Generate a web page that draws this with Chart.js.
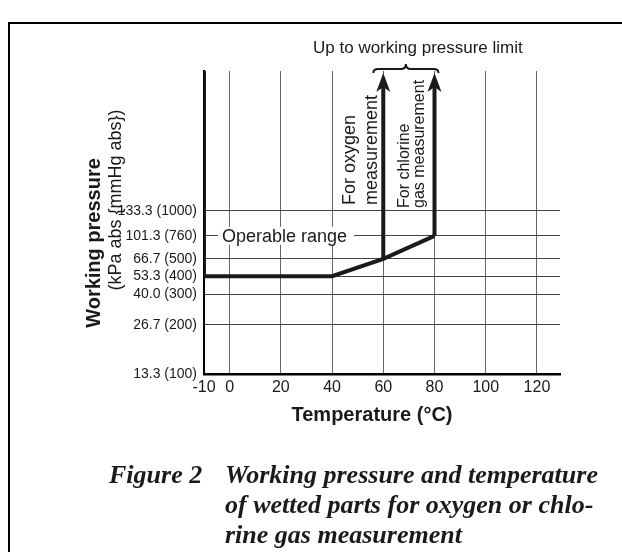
<!DOCTYPE html>
<html>
<head>
<meta charset="utf-8">
<script src="https://cdn.jsdelivr.net/npm/chart.js@4.4.1/dist/chart.umd.min.js"></script>
<style>
  html, body { margin: 0; padding: 0; background: #fff; }
  #wrap { width: 622px; height: 552px; }
</style>
</head>
<body>
<div id="wrap"><canvas id="chart" width="622" height="552"></canvas></div>
<script>
// temperature axis (°C)
const xTicks = [-10, 0, 20, 40, 60, 80, 100, 120];
const xMin = -10;
const xMax = 129;

// pressure axis: kPa abs {mmHg abs}
const kpaTicks = [13.3, 26.7, 40.0, 53.3, 66.7, 101.3, 133.3];
const mmHgTicks = [100, 200, 300, 400, 500, 760, 1000];
const pressureLimit = 200; // top edge = "working pressure limit", not labelled

// the pressure axis in the figure is not to scale: where each value sits (0 bottom, 1 top)
const kpaKnots = [13.3, 26.7, 40.0, 53.3, 66.7, 101.3, 133.3, pressureLimit];
const knotPos = [0, 0.162, 0.263, 0.323, 0.380, 0.456, 0.538, 1];

// boundary of the operable range
const boundaryTemp = [-10, -10, 40, 60, 80];
const boundaryKpa = [pressureLimit, 53.3, 53.3, 66.7, 101.3];
// arrows up to the working pressure limit
const oxygenTemp = [60, 60];
const oxygenKpa = [66.7, pressureLimit];
const chlorineTemp = [80, 80];
const chlorineKpa = [101.3, pressureLimit];

const captionNo = 'Figure 2';
const captionLines = ['Working pressure and temperature', 'of wetted parts for oxygen or chlo-', 'rine gas measurement'];

const ink = '#1a1a1a';

function hasFont(name) {
  const c = document.createElement('canvas').getContext('2d');
  c.font = '40px monospace';
  const a = c.measureText('133.3 (1000)').width;
  c.font = '40px "' + name + '", monospace';
  const b = c.measureText('133.3 (1000)').width;
  return a !== b;
}
const yTickFont = hasFont('Liberation Sans Narrow')
  ? { family: '"Liberation Sans Narrow", "Liberation Sans", Arial, sans-serif', size: 17 }
  : { family: '"Liberation Sans", Arial, sans-serif', size: 14 };

function kpaToPos(v) {
  if (v <= kpaKnots[0]) return knotPos[0];
  for (let i = 0; i < kpaKnots.length - 1; i++) {
    if (v <= kpaKnots[i + 1]) {
      const t = (v - kpaKnots[i]) / (kpaKnots[i + 1] - kpaKnots[i]);
      return knotPos[i] + t * (knotPos[i + 1] - knotPos[i]);
    }
  }
  return 1;
}
function posToKpa(p) {
  for (let i = 0; i < knotPos.length - 1; i++) {
    if (p <= knotPos[i + 1]) {
      const t = (p - knotPos[i]) / (knotPos[i + 1] - knotPos[i]);
      return kpaKnots[i] + t * (kpaKnots[i + 1] - kpaKnots[i]);
    }
  }
  return kpaKnots[kpaKnots.length - 1];
}

// linear scale, but the values go through the knots above
class PiecewiseScale extends Chart.LinearScale {
  getPixelForValue(value) {
    if (value === null || value === undefined) return NaN;
    return this.getPixelForDecimal(kpaToPos(value));
  }
  getValueForPixel(pixel) {
    return posToKpa(this.getDecimalForPixel(pixel));
  }
}
PiecewiseScale.id = 'piecewise';
PiecewiseScale.defaults = Chart.LinearScale.defaults;
Chart.register(PiecewiseScale);

function pts(xs, ys) {
  return xs.map((x, i) => ({ x: x, y: ys[i] }));
}

const figureText = {
  id: 'figureText',
  afterDatasetsDraw(chart) {
    const ctx = chart.ctx;
    const xs = chart.scales.x;
    const ys = chart.scales.y;
    ctx.save();
    ctx.fillStyle = ink;
    ctx.strokeStyle = ink;

    // "Operable range" sitting on the 101.3 line
    ctx.font = '18px "Liberation Sans", Arial, sans-serif';
    ctx.textBaseline = 'middle';
    ctx.textAlign = 'left';
    const ox = xs.getPixelForValue(-3);
    const oy = ys.getPixelForValue(101.3);
    const ow = ctx.measureText('Operable range').width;
    ctx.fillStyle = '#fff';
    ctx.fillRect(ox - 4, oy - 9, ow + 11, 18);
    ctx.fillStyle = ink;
    ctx.fillText('Operable range', ox, oy + 1);

    // arrow heads
    [1, 2].forEach(di => {
      const meta = chart.getDatasetMeta(di);
      const p = meta.data[meta.data.length - 1];
      const tip = p.y + 2;
      ctx.beginPath();
      ctx.moveTo(p.x, tip);
      ctx.lineTo(p.x + 7, tip + 19);
      ctx.lineTo(p.x, tip + 14);
      ctx.lineTo(p.x - 7, tip + 19);
      ctx.closePath();
      ctx.fill();
    });

    // rotated notes beside the arrows
    const x60 = xs.getPixelForValue(60);
    const x80 = xs.getPixelForValue(80);
    const y133 = ys.getPixelForValue(133.3);
    ctx.textAlign = 'left';
    ctx.textBaseline = 'alphabetic';
    ctx.save();
    ctx.translate(x60 - 6, y133 - 6);
    ctx.rotate(-Math.PI / 2);
    ctx.font = '18px "Liberation Sans", Arial, sans-serif';
    ctx.fillText('measurement', 0, 0);
    ctx.fillText('For oxygen', 0, -22);
    ctx.restore();
    ctx.save();
    ctx.translate(x80 - 11, y133 - 3);
    ctx.rotate(-Math.PI / 2);
    ctx.font = '16px "Liberation Sans", Arial, sans-serif';
    ctx.fillText('gas measurement', 0, 0);
    ctx.fillText('For chlorine', 0, -15);
    ctx.restore();

    // brace over the two arrows
    const top = chart.chartArea.top;
    const bl = x60 - 10, br = x80 + 4, bm = (bl + br) / 2;
    const by = top - 2;
    ctx.lineWidth = 2;
    ctx.beginPath();
    ctx.moveTo(bl, by + 4);
    ctx.quadraticCurveTo(bl, by, bl + 5, by);
    ctx.lineTo(bm - 5, by);
    ctx.quadraticCurveTo(bm, by, bm, by - 5);
    ctx.quadraticCurveTo(bm, by, bm + 5, by);
    ctx.lineTo(br - 5, by);
    ctx.quadraticCurveTo(br, by, br, by + 4);
    ctx.stroke();

    ctx.font = '17px "Liberation Sans", Arial, sans-serif';
    ctx.textAlign = 'center';
    ctx.fillText('Up to working pressure limit', bm + 12, 53);
    ctx.restore();
  },
  afterDraw(chart) {
    const ctx = chart.ctx;
    const area = chart.chartArea;
    ctx.save();
    ctx.fillStyle = ink;
    ctx.strokeStyle = '#000';

    // outer frame (left and top only, the rest is cut off)
    ctx.lineWidth = 2;
    ctx.beginPath();
    ctx.moveTo(9, 552);
    ctx.lineTo(9, 23);
    ctx.lineTo(622, 23);
    ctx.stroke();

    // axis titles
    ctx.textAlign = 'center';
    ctx.textBaseline = 'middle';
    ctx.font = 'bold 20px "Liberation Sans", Arial, sans-serif';
    ctx.fillText('Temperature (°C)', (area.left + area.right) / 2 - 10, area.bottom + 41);

    ctx.save();
    ctx.translate(94, 243);
    ctx.rotate(-Math.PI / 2);
    ctx.fillText('Working pressure', 0, 0);
    ctx.restore();
    ctx.save();
    ctx.translate(116, 200);
    ctx.rotate(-Math.PI / 2);
    ctx.font = '18px "Liberation Sans", Arial, sans-serif';
    ctx.fillText('(kPa abs {mmHg abs})', 0, 0);
    ctx.restore();

    // caption
    ctx.textAlign = 'left';
    ctx.textBaseline = 'alphabetic';
    ctx.font = 'italic bold 26px "Liberation Serif", "Times New Roman", serif';
    ctx.fillText(captionNo, 109, 483);
    captionLines.forEach((line, i) => {
      ctx.fillText(line, 225, 483 + i * 30);
    });
    ctx.restore();
  }
};

new Chart(document.getElementById('chart'), {
  type: 'line',
  data: {
    datasets: [
      { label: 'Operable range', data: pts(boundaryTemp, boundaryKpa) },
      { label: 'For oxygen measurement', data: pts(oxygenTemp, oxygenKpa), clip: { left: 5, top: -10, right: 5, bottom: 5 } },
      { label: 'For chlorine gas measurement', data: pts(chlorineTemp, chlorineKpa), clip: { left: 5, top: -10, right: 5, bottom: 5 } }
    ]
  },
  options: {
    responsive: false,
    animation: false,
    events: [],
    layout: { padding: { left: 0, top: 71, right: 62, bottom: 127 } },
    elements: {
      line: { borderColor: ink, borderWidth: 4, tension: 0, fill: false, borderJoinStyle: 'miter', borderCapStyle: 'butt' },
      point: { radius: 0 }
    },
    plugins: {
      legend: { display: false },
      tooltip: { enabled: false }
    },
    scales: {
      x: {
        type: 'linear',
        min: xMin,
        max: xMax,
        afterBuildTicks: s => { s.ticks = xTicks.map(v => ({ value: v })); },
        afterFit: s => { s.height = 51; },
        ticks: {
          autoSkip: false,
          maxRotation: 0,
          padding: 4,
          color: ink,
          font: { family: '"Liberation Sans", Arial, sans-serif', size: 16 }
        },
        grid: { color: '#666', lineWidth: 1, drawTicks: false },
        border: { color: '#000', width: 2.5 }
      },
      y: {
        type: 'piecewise',
        min: kpaKnots[0],
        max: pressureLimit,
        afterBuildTicks: s => { s.ticks = kpaTicks.map(v => ({ value: v })); },
        afterFit: s => { s.width = 204; },
        ticks: {
          autoSkip: false,
          padding: 7,
          color: ink,
          font: yTickFont,
          callback: (v, i) => kpaTicks[i].toFixed(1) + ' (' + mmHgTicks[i] + ')'
        },
        grid: { color: '#444', lineWidth: 1, drawTicks: false },
        border: { color: '#000', width: 2 }
      }
    }
  },
  plugins: [figureText]
});
</script>
</body>
</html>
